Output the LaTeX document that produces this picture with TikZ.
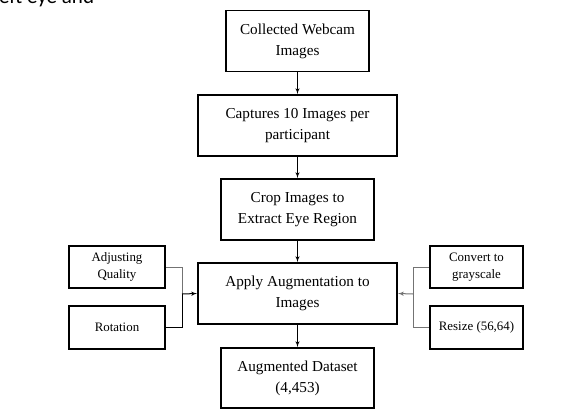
\documentclass[tikz,border=0pt]{standalone}
\usepackage{fontspec}
\setmainfont{Liberation Serif}
\newfontfamily\pagefont{Carlito}
\usetikzlibrary{arrows}
\tikzset{
  block/.style={
    rectangle,
    draw=black,
    line width=1.8pt,
    fill=white,
    inner sep=2pt,
    align=center,
    font=\fontsize{15.2}{21}\selectfont
  },
  smallblock/.style={
    block,
    font=\fontsize{12.9}{17.5}\selectfont
  }
}
\tikzstyle{arrow} = [->, > = latex', line width=1pt]
\tikzstyle{link} = [line width=1pt]
\definecolor{linkgray}{gray}{0.45}

\begin{document}
\begin{tikzpicture}[x=1pt, y=-1pt]
    \useasboundingbox (0,0) rectangle (588,409);
    % cut-off text of the page above
    \begin{scope}
      \clip (0,0) rectangle (588,409);
      \node[anchor=base west, inner sep=0pt, font=\pagefont\fontsize{21}{21}\selectfont] (pagetext) at (-1,3.5) {eft eye and};
    \end{scope}
    \node[block, minimum width=143pt, minimum height=61pt] (collect) at (297.5, 41) {Collected Webcam\\Images};
    \node[block, minimum width=199pt, minimum height=61pt] (capture) at (297.5, 125.5) {Captures 10 Images per\\participant};
    \node[block, minimum width=153pt, minimum height=61pt] (crop) at (297.5, 209.5) {Crop Images to\\Extract Eye Region};
    \node[block, minimum width=199pt, minimum height=61pt] (augment) at (297.5, 293.5) {Apply Augmentation to\\Images};
    \node[block, minimum width=153pt, minimum height=60pt] (dataset) at (297.5, 378) {Augmented Dataset\\(4,453)};
    \node[smallblock, minimum width=96pt, minimum height=42pt] (quality) at (117, 267) {Adjusting\\Quality};
    \node[smallblock, minimum width=96pt, minimum height=43pt] (rotation) at (117, 327.5) {Rotation};
    \node[smallblock, minimum width=93pt, minimum height=42pt] (gray) at (476.5, 267) {Convert to\\grayscale};
    \node[smallblock, minimum width=93pt, minimum height=43pt] (resize) at (476.5, 327.5) {Resize (56,64)};
    \coordinate (leftjoin) at (182, 294);
    \coordinate (rightjoin) at (413, 294);
    \draw[arrow] (collect) to (capture);
    \draw[arrow] (capture) to (crop);
    \draw[arrow] (crop) to (augment);
    \draw[arrow] (augment) to (dataset);
    \draw[link, linkgray] (quality.east) -| (leftjoin);
    \draw[link] (rotation.east) -| (leftjoin);
    \draw[arrow] (leftjoin) to (augment.west);
    \draw[link, linkgray] (gray.west) -| (rightjoin);
    \draw[link, linkgray] (resize.west) -| (rightjoin);
    \draw[arrow, linkgray] (rightjoin) to (augment.east);
  \end{tikzpicture}
\end{document}
